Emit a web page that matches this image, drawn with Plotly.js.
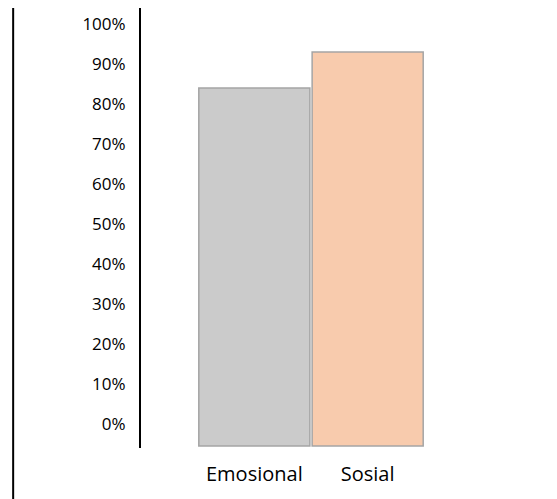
<!DOCTYPE html>
<html><head><meta charset="utf-8">
<script src="https://cdn.plot.ly/plotly-3.0.1.min.js"></script>
<style>html,body{margin:0;padding:0;background:#fff}#c{width:557px;height:499px}</style>
</head><body><div id="c"></div>
<script>
const categories = ["Emosional", "Sosial"];
const values = [0.84, 0.93];
const barColors = ["#cbcbcb", "#f8cbad"];
const tickVals = [0,0.1,0.2,0.3,0.4,0.5,0.6,0.7,0.8,0.9,1.0];
const tickText = ["0%","10%","20%","30%","40%","50%","60%","70%","80%","90%","100%"];

const trace = {
  type: "bar",
  x: categories,
  y: values.map(v => v + 0.055),
  base: -0.055,
  marker: {color: barColors, line: {color: "#a5a5a5", width: 1.5}},
  hoverinfo: "skip"
};
const layout = {
  width: 557, height: 499,
  margin: {l: 141, r: 76, t: 8, b: 51},
  paper_bgcolor: "#fff", plot_bgcolor: "#fff",
  font: {family: "'Open Sans', sans-serif", size: 15, color: "#000"},
  bargap: 0.02,
  showlegend: false,
  xaxis: {range: [-1, 2], showline: false, showgrid: false, zeroline: false, ticks: "", ticklabelstandoff: 12, tickfont: {size: 20}},
  yaxis: {range: [-0.06, 1.04], tickvals: tickVals, ticktext: tickText, showline: true, linecolor: "#000", linewidth: 2,
          showgrid: false, zeroline: false, ticks: "", ticklabelstandoff: 10, tickfont: {size: 17}},
  shapes: [{type: "line", xref: "paper", yref: "paper", x0: -0.376, x1: -0.376, y0: 1, y1: -0.2, line: {color: "#000", width: 2}}]
};
Plotly.newPlot("c", [trace], layout, {staticPlot: true});
</script></body></html>
